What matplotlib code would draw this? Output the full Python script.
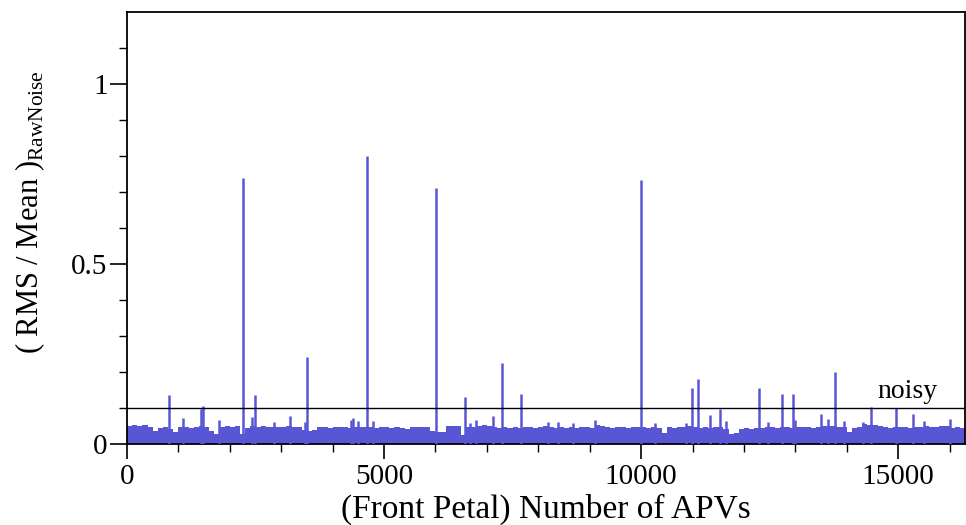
"""
APV raw-noise RMS/Mean, front petals -- ROOT-style histogram
"""
import numpy as np
import matplotlib
matplotlib.use("Agg")
import matplotlib.pyplot as plt

plt.rcParams["font.family"] = ["Liberation Serif", "DejaVu Serif"]
plt.rcParams["mathtext.fontset"] = "custom"
plt.rcParams["mathtext.rm"] = "Liberation Serif"

FILL = "#5956D6"

# ── Data ───────────────────────────────────────────────────────────────────────
# baseline level per 100-APV chunk (0 .. 16300)
CHUNK = 100
base_levels = [
    0.050, 0.052, 0.048, 0.053, 0.047, 0.036, 0.044, 0.045, 0.040, 0.031,
    0.047, 0.046, 0.044, 0.046, 0.048, 0.045, 0.036, 0.026, 0.047, 0.049,
    0.047, 0.048, 0.027, 0.044, 0.050, 0.047, 0.048, 0.047, 0.046, 0.045,
    0.047, 0.048, 0.046, 0.045, 0.038, 0.036, 0.037, 0.045, 0.046, 0.044,
    0.047, 0.045, 0.046, 0.044, 0.046, 0.047, 0.045, 0.046, 0.044, 0.045,
    0.046, 0.044, 0.045, 0.044, 0.040, 0.045, 0.046, 0.045, 0.046, 0.036,
    0.031, 0.032, 0.049, 0.050, 0.048, 0.024, 0.045, 0.047, 0.048, 0.051,
    0.050, 0.047, 0.043, 0.045, 0.044, 0.046, 0.044, 0.045, 0.046, 0.044,
    0.045, 0.048, 0.047, 0.044, 0.045, 0.044, 0.045, 0.044, 0.046, 0.045,
    0.044, 0.052, 0.049, 0.045, 0.044, 0.046, 0.045, 0.044, 0.045, 0.046,
    0.045, 0.044, 0.045, 0.044, 0.030, 0.045, 0.044, 0.045, 0.046, 0.048,
    0.046, 0.044, 0.045, 0.044, 0.045, 0.046, 0.040, 0.026, 0.030, 0.042,
    0.043, 0.042, 0.044, 0.044, 0.045, 0.046, 0.044, 0.045, 0.046, 0.044,
    0.045, 0.046, 0.045, 0.044, 0.046, 0.048, 0.050, 0.049, 0.047, 0.046,
    0.033, 0.044, 0.045, 0.055, 0.053, 0.052, 0.050, 0.045, 0.044, 0.046,
    0.046, 0.045, 0.044, 0.047, 0.046, 0.048, 0.047, 0.046, 0.049, 0.048,
    0.044, 0.045, 0.044,
]

# single-APV outliers (position, RMS/Mean)
spike_apv = [817, 1083, 1440, 1485, 1790, 2257, 2425, 2480, 2860, 3165,
             3463, 3502, 4360, 4400, 4490, 4670, 4790, 6012, 6570, 6673,
             6790, 7127, 7300, 7665, 8190, 8385, 8680, 9105, 10000, 10270,
             10875, 10990, 11100, 11330, 11540, 11650, 12300, 12477, 12740,
             12960, 12996, 13502, 13625, 13780, 13950, 14325, 14470, 14950,
             15290, 15494, 16000]
spike_val = [0.135, 0.070, 0.095, 0.106, 0.065, 0.738, 0.075, 0.135, 0.060, 0.076,
             0.060, 0.240, 0.065, 0.072, 0.062, 0.799, 0.062, 0.710, 0.130, 0.058,
             0.065, 0.078, 0.224, 0.137, 0.060, 0.060, 0.058, 0.065, 0.732, 0.056,
             0.058, 0.156, 0.179, 0.079, 0.095, 0.064, 0.155, 0.060, 0.139,
             0.137, 0.065, 0.082, 0.068, 0.199, 0.064, 0.060, 0.102, 0.098,
             0.082, 0.062, 0.068]

NOISY_CUT = 0.1

# ── Plot ───────────────────────────────────────────────────────────────────────
fig = plt.figure(figsize=(9.66, 5.25), dpi=100, facecolor="white")
ax = fig.add_axes([0.1315, 0.155, 0.8675, 0.822])

edges = np.arange(len(base_levels) + 1) * CHUNK
ax.stairs(base_levels, edges, fill=True, color=FILL, linewidth=0, zorder=2)
ax.vlines(spike_apv, 0, spike_val, color=FILL, linewidth=1.8, zorder=3)

ax.axhline(NOISY_CUT, color="black", linewidth=1.0, zorder=4)
ax.text(14590, 0.128, "noisy", fontsize=20, ha="left", va="baseline", zorder=5)

ax.set_xlim(0, 16300)
ax.set_ylim(0, 1.2)
ax.set_xticks([0, 5000, 10000, 15000])
ax.set_xticks(np.arange(0, 16300, 1000), minor=True)
ax.set_yticks([0, 0.5, 1])
ax.set_yticklabels(["0", "0.5", "1"])
ax.set_yticks(np.arange(0, 1.2, 0.1), minor=True)

ax.tick_params(which="major", direction="out", width=1.2, labelsize=21)
ax.tick_params(axis="y", which="major", length=12, pad=2)
ax.tick_params(axis="x", which="major", length=11, pad=4)
ax.tick_params(which="minor", direction="out", length=6, width=1.0)
for spine in ax.spines.values():
    spine.set_linewidth(1.3)

ax.set_xlabel("(Front Petal) Number of APVs", fontsize=24, labelpad=2)
ax.set_ylabel(r"( RMS / Mean )$_{\mathrm{RawNoise}}$", fontsize=22)
ax.yaxis.set_label_coords(-0.096, 0.536)

fig.savefig("out.png", dpi=100, facecolor="white")
plt.close()
